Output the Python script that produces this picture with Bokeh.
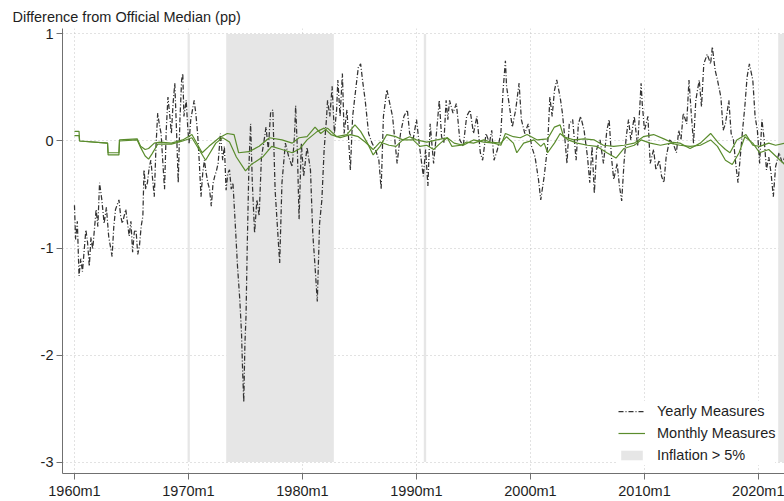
from bokeh.plotting import figure
from bokeh.models import Range1d, FixedTicker, Legend, LegendItem
from bokeh.embed import file_html
from bokeh.resources import INLINE

# ---------------- data ----------------
x_ticks = [1960, 1970, 1980, 1990, 2000, 2010, 2020]
x_tick_labels = ["1960m1", "1970m1", "1980m1", "1990m1", "2000m1", "2010m1", "2020m1"]
y_ticks = [-3, -2, -1, 0, 1]
y_tick_labels = ["-3", "-2", "-1", "0", "1"]

shade_start = [1969.92, 1973.31, 1990.64, 2021.73]
shade_end = [1970.12, 1982.75, 1990.85, 2023.0]

yearly_t = [
    1960.0, 1960.1, 1960.25, 1960.4, 1960.55, 1960.7, 1961.0, 1961.15, 1961.3, 1961.45,
    1961.6, 1961.9, 1962.05, 1962.2, 1962.4, 1962.6, 1962.8, 1963.0, 1963.3, 1963.45,
    1963.6, 1963.9, 1964.05, 1964.2, 1964.5, 1964.8, 1964.95, 1965.1, 1965.25, 1965.4,
    1965.55, 1965.7, 1965.85, 1966.0, 1966.1, 1966.25, 1966.4, 1966.55, 1966.7, 1966.85,
    1967.0, 1967.15, 1967.3, 1967.45, 1967.6, 1967.75, 1967.9, 1968.05, 1968.2, 1968.35,
    1968.5, 1968.65, 1968.8, 1968.95, 1969.1, 1969.25, 1969.4, 1969.5, 1969.6, 1969.8,
    1969.95, 1970.05, 1970.2, 1970.5, 1970.65, 1970.8, 1970.95, 1971.1, 1971.25, 1971.4,
    1971.55, 1971.7, 1971.85, 1972.0, 1972.15, 1972.3, 1972.45, 1972.6, 1972.8, 1973.0,
    1973.15, 1973.3, 1973.45, 1973.6, 1973.75, 1973.9, 1974.1, 1974.3, 1974.5, 1974.65,
    1974.75, 1974.85, 1974.95, 1975.05, 1975.15, 1975.3, 1975.45, 1975.6, 1975.8, 1976.0,
    1976.2, 1976.4, 1976.6, 1976.8, 1977.0, 1977.2, 1977.4, 1977.6, 1977.8, 1978.0,
    1978.2, 1978.5, 1978.8, 1979.1, 1979.3, 1979.4, 1979.55, 1979.7, 1979.9, 1980.1,
    1980.4, 1980.7, 1980.9, 1981.1, 1981.3, 1981.5, 1981.7, 1981.9, 1982.1, 1982.2,
    1982.4, 1982.6, 1982.8, 1983.0, 1983.1, 1983.3, 1983.5, 1983.65, 1983.9, 1984.2,
    1984.4, 1984.7, 1984.9, 1985.1, 1985.3, 1985.5, 1985.8, 1986.1, 1986.4, 1986.7,
    1986.9, 1987.1, 1987.4, 1987.6, 1987.9, 1988.1, 1988.3, 1988.6, 1988.9, 1989.2,
    1989.4, 1989.7, 1990.0, 1990.3, 1990.6, 1990.8, 1991.0, 1991.2, 1991.5, 1991.7,
    1992.0, 1992.2, 1992.4, 1992.6, 1992.75, 1992.9, 1993.2, 1993.5, 1993.8, 1994.1,
    1994.4, 1994.7, 1995.0, 1995.3, 1995.6, 1995.8, 1996.1, 1996.4, 1996.6, 1996.8,
    1997.1, 1997.4, 1997.6, 1997.8, 1997.9, 1998.2, 1998.4, 1998.7, 1999.0, 1999.2,
    1999.5, 1999.8, 2000.1, 2000.4, 2000.7, 2000.9, 2001.2, 2001.5, 2001.7, 2001.9,
    2002.1, 2002.3, 2002.6, 2002.8, 2003.0, 2003.2, 2003.4, 2003.7, 2004.0, 2004.2,
    2004.4, 2004.7, 2005.0, 2005.2, 2005.4, 2005.6, 2005.8, 2006.1, 2006.4, 2006.7,
    2006.9, 2007.1, 2007.3, 2007.6, 2007.8, 2008.0, 2008.2, 2008.4, 2008.6, 2008.8,
    2009.1, 2009.4, 2009.7, 2009.8, 2010.0, 2010.3, 2010.5, 2010.8, 2011.0, 2011.3,
    2011.5, 2011.7, 2011.9, 2012.2, 2012.5, 2012.8, 2013.0, 2013.2, 2013.4, 2013.7,
    2013.9, 2014.1, 2014.3, 2014.5, 2014.8, 2015.0, 2015.2, 2015.5, 2015.8, 2015.95,
    2016.2, 2016.4, 2016.7, 2016.9, 2017.1, 2017.4, 2017.6, 2017.8, 2018.0, 2018.2,
    2018.4, 2018.6, 2018.8, 2019.0, 2019.2, 2019.5, 2019.7, 2019.9, 2020.1, 2020.3,
    2020.5, 2020.7, 2020.9, 2021.1, 2021.3, 2021.5, 2021.8, 2022.1, 2022.3,
]
yearly_v = [
    -0.60, -0.92, -0.75, -1.26, -1.10, -1.22, -0.83, -0.95, -1.17, -0.90,
    -1.01, -0.64, -0.80, -0.39, -0.55, -0.77, -0.62, -0.89, -1.08, -0.80,
    -0.64, -0.55, -0.70, -0.77, -0.64, -0.89, -0.75, -1.04, -0.85, -0.83,
    -1.06, -0.98, -0.80, -0.70, -0.27, -0.45, -0.39, -0.25, -0.18, -0.35,
    -0.52, -0.05, 0.26, 0.15, 0.07, -0.20, -0.45, 0.10, 0.41, 0.25,
    0.07, 0.35, 0.54, 0.10, -0.39, 0.20, 0.57, 0.63, 0.23, 0.38,
    0.10, -0.02, 0.20, 0.38, 0.25, 0.07, -0.20, -0.52, -0.30, -0.18,
    -0.30, -0.39, -0.45, -0.61, -0.40, -0.33, -0.28, -0.21, 0.07, -0.18,
    -0.05, -0.46, -0.30, -0.27, -0.45, -0.39, -0.77, -1.17, -1.48, -1.79,
    -2.15, -2.44, -1.90, -1.63, -1.01, -0.24, 0.16, -0.39, -0.86, -0.55,
    -0.70, -0.15, -0.02, 0.13, -0.08, 0.26, 0.29, -0.46, -0.80, -1.14,
    -0.39, -0.02, -0.15, -0.24, 0.05, 0.33, -0.08, -0.73, -0.02, -0.33,
    -0.06, -0.27, -0.86, -1.17, -1.50, -0.77, -0.55, -0.08, 0.20, 0.38,
    0.23, 0.51, 0.07, 0.30, 0.57, 0.23, 0.63, 0.07, 0.29, -0.27,
    0.23, 0.51, 0.69, 0.72, 0.54, 0.38, 0.07, -0.02, -0.08, -0.18,
    -0.45, 0.23, 0.48, 0.38, 0.23, 0.01, -0.21, 0.07, 0.23, 0.29,
    0.07, 0.01, 0.20, -0.08, -0.33, -0.08, -0.42, 0.16, -0.21, 0.01,
    0.38, 0.04, -0.02, 0.38, 0.20, 0.38, 0.26, 0.35, 0.01, -0.05,
    0.23, 0.29, 0.07, 0.23, -0.11, -0.18, 0.07, -0.02, 0.10, -0.18,
    -0.08, 0.07, 0.48, 0.75, 0.51, 0.29, 0.13, 0.29, 0.54, 0.20,
    0.07, 0.16, -0.05, -0.15, -0.36, -0.55, -0.33, -0.05, 0.41, 0.23,
    0.47, 0.57, 0.41, 0.26, 0.04, -0.21, 0.16, 0.20, -0.18, 0.16,
    0.23, 0.10, -0.15, -0.39, -0.05, -0.49, -0.08, 0.01, -0.21, 0.10,
    0.20, -0.15, -0.36, -0.21, -0.42, -0.56, -0.21, 0.04, 0.20, 0.01,
    0.23, -0.05, 0.54, 0.35, 0.10, 0.23, -0.21, -0.08, -0.27, -0.18,
    -0.33, -0.39, -0.15, 0.01, -0.02, -0.11, 0.10, 0.01, 0.26, 0.16,
    0.57, 0.26, -0.02, 0.38, 0.57, 0.32, 0.72, 0.81, 0.72, 0.88,
    0.66, 0.57, 0.41, 0.10, 0.16, 0.38, 0.07, 0.01, -0.21, -0.39,
    -0.15, 0.10, 0.32, 0.60, 0.72, 0.57, 0.23, 0.10, -0.21, 0.20,
    0.01, -0.27, -0.15, -0.30, -0.52, -0.24, -0.11, -0.21, -0.15,
]

monthly_a_t = [
    1960.0, 1960.4, 1960.45, 1962.9, 1962.95, 1963.9, 1963.95, 1965.5, 1965.8, 1966.2,
    1966.5, 1967.0, 1967.5, 1968.5, 1969.5, 1970.3, 1971.2, 1971.8, 1972.7, 1973.4,
    1974.0, 1974.4, 1975.3, 1976.2, 1977.1, 1978.2, 1979.1, 1979.7, 1980.4, 1981.1,
    1981.6, 1982.2, 1983.0, 1983.9, 1984.6, 1985.1, 1985.7, 1986.2, 1986.8, 1987.4,
    1988.2, 1988.8, 1989.4, 1990.0, 1990.9, 1991.8, 1992.7, 1993.3, 1994.1, 1995.0,
    1995.9, 1996.8, 1997.4, 1997.8, 1998.5, 1999.1, 1999.7, 2000.6, 2001.5, 2002.1,
    2002.6, 2002.9, 2003.8, 2004.7, 2005.6, 2006.4, 2007.3, 2008.2, 2009.1, 2009.9,
    2010.8, 2011.7, 2012.3, 2013.1, 2014.0, 2014.9, 2015.8, 2016.5, 2017.1, 2017.5,
    2018.1, 2018.9, 2019.5, 2020.1, 2020.9, 2021.5, 2022.3,
]
monthly_a_v = [
    0.09, 0.09, 0.0, -0.02, -0.13, -0.13, 0.01, 0.02, -0.05, -0.08,
    -0.07, -0.02, -0.01, -0.02, 0.01, 0.06, -0.11, -0.05, 0.03, 0.07,
    0.06, -0.11, -0.10, -0.05, 0.03, 0.01, -0.02, 0.03, 0.04, 0.13,
    0.07, 0.12, 0.04, 0.06, 0.15, 0.09, -0.02, -0.13, -0.05, 0.06,
    0.04, 0.01, 0.04, 0.01, -0.01, 0.01, 0.03, -0.02, -0.04, 0.01,
    -0.01, -0.02, -0.04, 0.07, 0.04, 0.03, 0.06, 0.01, 0.02, 0.13,
    0.15, 0.04, 0.01, 0.02, 0.01, -0.04, -0.05, -0.04, -0.02, 0.04,
    0.06, 0.02, -0.01, -0.02, -0.07, -0.02, 0.07, -0.02, -0.08, -0.11,
    0.01, 0.06, -0.04, -0.05, -0.02, -0.04, -0.02,
]

monthly_b_t = [
    1960.0, 1960.4, 1960.45, 1962.9, 1962.95, 1963.9, 1963.95, 1965.5, 1965.8, 1966.2,
    1966.5, 1966.8, 1967.3, 1968.5, 1969.5, 1970.3, 1971.5, 1972.4, 1973.0, 1973.6,
    1974.2, 1975.0, 1975.5, 1976.5, 1977.3, 1978.2, 1979.1, 1979.8, 1980.4, 1981.3,
    1981.9, 1982.5, 1983.3, 1984.2, 1984.9, 1985.5, 1986.2, 1986.8, 1987.6, 1988.2,
    1988.8, 1989.7, 1990.3, 1990.9, 1991.5, 1992.1, 1992.7, 1993.1, 1993.9, 1994.4,
    1995.0, 1995.9, 1996.5, 1997.4, 1997.9, 1998.5, 1998.8, 1999.4, 2000.3, 2000.9,
    2001.2, 2001.5, 2002.1, 2002.6, 2003.3, 2004.1, 2005.0, 2005.8, 2006.7, 2007.5,
    2008.2, 2009.1, 2009.7, 2010.5, 2011.4, 2012.3, 2013.1, 2014.0, 2014.9, 2015.8,
    2016.4, 2017.1, 2017.7, 2018.3, 2018.8, 2019.5, 2020.1, 2020.9, 2021.5, 2022.3,
]
monthly_b_v = [
    0.05, 0.05, 0.0, -0.02, -0.11, -0.11, 0.0, 0.01, -0.06, -0.14,
    -0.17, -0.12, -0.03, -0.03, 0.0, 0.03, -0.18, -0.02, 0.03, -0.01,
    -0.15, -0.28, -0.22, -0.15, -0.05, -0.08, -0.11, -0.07, 0.01, 0.09,
    0.12, 0.06, 0.03, 0.06, 0.04, -0.01, -0.08, -0.01, -0.04, -0.05,
    0.01, 0.01, -0.05, -0.04, -0.08, -0.02, 0.03, -0.05, -0.04, -0.01,
    -0.02, 0.01, -0.01, -0.02, 0.04, -0.02, -0.11, -0.02, 0.01, -0.05,
    -0.02, -0.11, -0.02, 0.07, 0.01, -0.02, -0.04, -0.05, -0.11, -0.16,
    -0.07, -0.04, 0.01, -0.02, -0.04, -0.02, -0.04, -0.05, -0.04, 0.01,
    -0.05, -0.18, -0.22, -0.11, 0.04, -0.02, -0.11, -0.08, -0.14, -0.22,
]

# ---------------- figure ----------------
FONT = "Liberation Sans"
FS = "14.5px"

p = figure(width=784, height=501, output_backend="svg", toolbar_location=None,
           x_range=Range1d(1958.95, 2022.28), y_range=Range1d(-3.107, 1.051),
           min_border_left=62, min_border_right=0, min_border_top=28,
           min_border_bottom=26,
           title="Difference from Official Median (pp)")
p.title.align = "left"
p.title.offset = -50
p.title.standoff = 8
p.title.text_font = FONT
p.title.text_font_size = FS
p.title.text_font_style = "normal"
p.title.text_color = "#1e1e1e"
p.outline_line_color = None
p.background_fill_color = "white"

for ax, ticks in ((p.xaxis, x_ticks), (p.yaxis, y_ticks)):
    ax.ticker = FixedTicker(ticks=ticks)
    ax.axis_line_color = "#707070"
    ax.major_tick_line_color = "#707070"
    ax.major_tick_out = 6
    ax.major_tick_in = 0
    ax.minor_tick_line_color = None
    ax.major_label_text_font = FONT
    ax.major_label_text_font_size = FS
    ax.major_label_text_color = "#1e1e1e"
    ax.major_label_standoff = 3
p.xaxis.major_label_overrides = {t: lab for t, lab in zip(x_ticks, x_tick_labels)}
p.yaxis.major_label_overrides = {t: lab for t, lab in zip(y_ticks, y_tick_labels)}

p.xgrid.ticker = FixedTicker(ticks=x_ticks)
p.ygrid.ticker = FixedTicker(ticks=y_ticks)
for g in (p.xgrid, p.ygrid):
    g.grid_line_color = "#c4c4c4"
    g.grid_line_dash = "1 3"
    g.grid_line_width = 1

shade = p.quad(left=shade_start, right=shade_end, bottom=-3, top=1,
               fill_color="#e6e6e6", line_color=None)

n = min(len(yearly_t), len(yearly_v))
ry = p.line(yearly_t[:n], yearly_v[:n], line_color="#333333", line_width=1.25,
            line_dash="5 2 1 2")

GREEN = "#5a8c2d"
na = min(len(monthly_a_t), len(monthly_a_v))
nb = min(len(monthly_b_t), len(monthly_b_v))
rg1 = p.line(monthly_a_t[:na], monthly_a_v[:na], line_color=GREEN, line_width=1.2)
rg2 = p.line(monthly_b_t[:nb], monthly_b_v[:nb], line_color=GREEN, line_width=1.2)

legend = Legend(items=[
    LegendItem(label="Yearly Measures", renderers=[ry]),
    LegendItem(label="Monthly Measures", renderers=[rg1]),
    LegendItem(label="Inflation > 5%", renderers=[shade]),
], location=(556, 8))
legend.background_fill_color = "white"
legend.background_fill_alpha = 1.0
legend.border_line_color = None
legend.padding = 5
legend.spacing = 2
legend.margin = 0
legend.label_height = 20
legend.glyph_height = 12
legend.glyph_width = 27
legend.label_standoff = 12
legend.label_text_font = FONT
legend.label_text_font_size = FS
legend.label_text_color = "#1e1e1e"
p.add_layout(legend)

open("out.html", "w").write(file_html(p, INLINE))
